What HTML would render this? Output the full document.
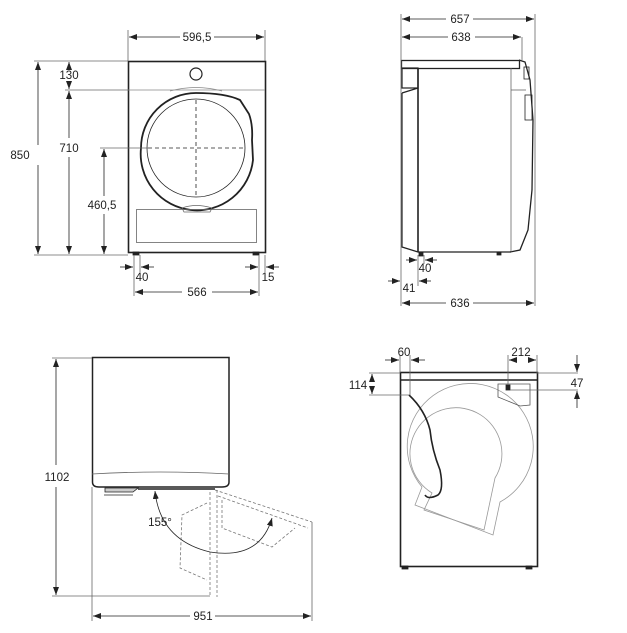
<!DOCTYPE html>
<html><head><meta charset="utf-8"><style>
html,body{margin:0;padding:0;background:#fff;}
svg{display:block;}
text{font-family:"Liberation Sans",sans-serif;font-size:11.5px;fill:#222;}
</style></head><body>
<svg width="627" height="633" viewBox="0 0 627 633" xmlns="http://www.w3.org/2000/svg">
<defs>
<marker id="a" markerWidth="8" markerHeight="6" refX="8" refY="3" orient="auto-start-reverse" markerUnits="userSpaceOnUse"><path d="M0,0 L8,3 L0,6 z" fill="#222"/></marker>
</defs>
<g stroke="#222" fill="none" stroke-width="0.8">
<!-- FRONT VIEW -->
<rect x="128.5" y="61.5" width="137" height="191" stroke-width="1.6"/>
<line x1="128" y1="90" x2="265" y2="90" stroke="#888"/>
<circle cx="196" cy="74" r="6" stroke-width="1.2"/>
<path d="M170,91 Q196,84 222,91" stroke="#888"/>
<path d="M141,148 A55,55 0 0 1 196,93 Q225,93 240,100 L249,114 Q253,125 252,140 L253,160 A56,56 0 0 1 141,148 Z" stroke-width="1.8"/>
<circle cx="196" cy="148" r="49"/>
<line x1="148" y1="148" x2="244" y2="148" stroke-dasharray="4,3"/>
<line x1="196" y1="100" x2="196" y2="196" stroke-dasharray="4,3"/>
<rect x="136.5" y="209.5" width="120" height="33" stroke="#666"/>
<path d="M182,208 Q196,203 212,208 L210,212 L184,212 Z" stroke="#666"/>
<rect x="133" y="252" width="6" height="3" fill="#222"/>
<rect x="253" y="252" width="6" height="3" fill="#222"/>
<!-- front dims -->
<line x1="128" y1="30" x2="128" y2="61" stroke="#666"/>
<line x1="265" y1="30" x2="265" y2="61" stroke="#666"/>
<line x1="129" y1="37" x2="180" y2="37" marker-start="url(#a)"/>
<line x1="214" y1="37" x2="264" y2="37" marker-end="url(#a)"/>
<line x1="34" y1="61" x2="128" y2="61" stroke="#666"/>
<line x1="34" y1="255" x2="128" y2="255" stroke="#666"/>
<line x1="65" y1="90" x2="128" y2="90" stroke="#666"/>
<line x1="100" y1="148" x2="148" y2="148" stroke="#666"/>
<line x1="38" y1="62" x2="38" y2="145" marker-start="url(#a)"/>
<line x1="38" y1="165" x2="38" y2="254" marker-end="url(#a)"/>
<line x1="69" y1="62" x2="69" y2="67" marker-start="url(#a)"/>
<line x1="69" y1="82" x2="69" y2="89" marker-end="url(#a)"/>
<line x1="69" y1="91" x2="69" y2="138" marker-start="url(#a)"/>
<line x1="69" y1="157" x2="69" y2="254" marker-end="url(#a)"/>
<line x1="104" y1="149" x2="104" y2="196" marker-start="url(#a)"/>
<line x1="104" y1="214" x2="104" y2="254" marker-end="url(#a)"/>
<line x1="134" y1="255" x2="134" y2="296" stroke="#666"/>
<line x1="140" y1="255" x2="140" y2="272" stroke="#666"/>
<line x1="259" y1="255" x2="259" y2="296" stroke="#666"/>
<line x1="265" y1="255" x2="265" y2="272" stroke="#666"/>
<line x1="120" y1="267" x2="133" y2="267" marker-end="url(#a)"/>
<line x1="154" y1="267" x2="141" y2="267" marker-end="url(#a)"/>
<line x1="245" y1="267" x2="258" y2="267" marker-end="url(#a)"/>
<line x1="279" y1="267" x2="266" y2="267" marker-end="url(#a)"/>
<line x1="135" y1="292" x2="182" y2="292" marker-start="url(#a)"/>
<line x1="212" y1="292" x2="258" y2="292" marker-end="url(#a)"/>

<!-- SIDE VIEW -->
<rect x="401.5" y="60.5" width="118" height="8" stroke-width="1.3"/>
<path d="M519,60 L525,62 L530,80 L533,120 L532,190 L528,230 L520,250 L510,252" stroke-width="1.3"/>
<rect x="524" y="67" width="5" height="12"/>
<rect x="525" y="95" width="7" height="25"/>
<line x1="511" y1="68" x2="511" y2="252" stroke="#666"/>
<line x1="511" y1="90" x2="526" y2="90" stroke="#666"/>
<rect x="402" y="68" width="16" height="20" stroke-width="1.2"/>
<line x1="418" y1="68" x2="418" y2="252" stroke-width="1.6"/>
<path d="M402,93 L418,88 M402,93 L402,247 L418,252 L511,252" stroke-width="1.2"/>
<rect x="419" y="252" width="4" height="4" fill="#222"/>
<rect x="497" y="252" width="4" height="3" fill="#222"/>
<line x1="401" y1="14" x2="401" y2="306" stroke="#666"/>
<line x1="535" y1="14" x2="535" y2="306" stroke="#666"/>
<line x1="522" y1="37" x2="522" y2="60" stroke="#666"/>
<line x1="402" y1="19" x2="446" y2="19" marker-start="url(#a)"/>
<line x1="473" y1="19" x2="534" y2="19" marker-end="url(#a)"/>
<line x1="402" y1="37" x2="448" y2="37" marker-start="url(#a)"/>
<line x1="475" y1="37" x2="521" y2="37" marker-end="url(#a)"/>
<line x1="418" y1="255" x2="418" y2="286" stroke="#666"/>
<line x1="424" y1="255" x2="424" y2="264" stroke="#666"/>
<line x1="406" y1="260" x2="417" y2="260" marker-end="url(#a)"/>
<line x1="437" y1="260" x2="425" y2="260" marker-end="url(#a)"/>
<line x1="388" y1="281" x2="400" y2="281" marker-end="url(#a)"/>
<line x1="431" y1="281" x2="419" y2="281" marker-end="url(#a)"/>
<line x1="402" y1="303" x2="446" y2="303" marker-start="url(#a)"/>
<line x1="473" y1="303" x2="534" y2="303" marker-end="url(#a)"/>

<!-- TOP VIEW -->
<path d="M92.5,357.5 L229,357.5 L229,482 Q229,487 222,487 L99,487 Q92.5,487 92.5,482 Z" stroke-width="1.5"/>
<path d="M92,474 Q160,470 229,474" stroke="#666"/>
<path d="M105,492 L133,492 L138,488 L105,488 Z" fill="#ccc"/>
<line x1="104" y1="495" x2="133" y2="495"/>
<line x1="138" y1="489" x2="215" y2="489" stroke-width="1.5"/>
<line x1="56" y1="359" x2="56" y2="465" marker-start="url(#a)"/>
<line x1="56" y1="487" x2="56" y2="595" marker-end="url(#a)"/>
<line x1="52" y1="358" x2="92" y2="358" stroke="#666"/>
<line x1="52" y1="596" x2="210" y2="596" stroke="#666"/>
<line x1="92" y1="487" x2="92" y2="621" stroke="#666"/>
<line x1="312" y1="522" x2="312" y2="621" stroke="#666"/>
<line x1="93" y1="616" x2="190" y2="616" marker-start="url(#a)"/>
<line x1="215" y1="616" x2="311" y2="616" marker-end="url(#a)"/>
<g stroke="#777" stroke-dasharray="3,2">
<line x1="210" y1="492" x2="210" y2="597"/>
<line x1="217" y1="490" x2="217" y2="597"/>
<line x1="215" y1="490" x2="312" y2="522"/>
<line x1="218" y1="496" x2="308" y2="528"/>
<path d="M207,503 L182,515 L180,568 L207,580"/>
<path d="M222,500 L222,528 L272,547 L295,528"/>
</g>
<path d="M155,491 Q160,540 210,552 Q260,560 272,518" marker-start="url(#a)" marker-end="url(#a)"/>

<!-- REAR VIEW -->
<rect x="400.5" y="372.5" width="137" height="194" stroke-width="1.6"/>
<line x1="400" y1="380" x2="537" y2="380" stroke-width="1.4"/>
<rect x="402" y="566" width="6" height="3" fill="#222"/>
<rect x="526" y="566" width="6" height="3" fill="#222"/>
<g stroke="#999">
<path d="M422,487 A63,63 0 1 1 500,502 L493,535 L415,505 Z"/>
<path d="M432,493 A46,46 0 1 1 495,478 L484,530 L424,510 Z"/>
</g>
<path d="M506,384 L530,384 L530,405 L520,406 L498,397 L498,384 Z" stroke="#555"/>
<rect x="506" y="385" width="4" height="5" fill="#222"/>
<path d="M409,395 Q425,410 430,430 Q432,450 440,470 Q444,490 438,495 Q428,500 425,495" stroke-width="1.6"/>
<line x1="400" y1="355" x2="400" y2="373" stroke="#666"/>
<line x1="410" y1="355" x2="410" y2="395" stroke="#666"/>
<line x1="385" y1="360" x2="399" y2="360" marker-end="url(#a)"/>
<line x1="425" y1="360" x2="411" y2="360" marker-end="url(#a)"/>
<line x1="508" y1="355" x2="508" y2="384" stroke="#666"/>
<line x1="537" y1="355" x2="537" y2="373" stroke="#666"/>
<line x1="512" y1="360" x2="509" y2="360" marker-end="url(#a)"/>
<line x1="530" y1="360" x2="536" y2="360" marker-end="url(#a)"/>
<line x1="369" y1="373" x2="400" y2="373" stroke="#666"/>
<line x1="369" y1="395" x2="409" y2="395" stroke="#666"/>
<line x1="372" y1="380" x2="372" y2="374" marker-end="url(#a)"/>
<line x1="372" y1="388" x2="372" y2="394" marker-end="url(#a)"/>
<line x1="537" y1="373" x2="578" y2="373" stroke="#666"/>
<line x1="510" y1="390" x2="578" y2="390" stroke="#666"/>
<line x1="577" y1="355" x2="577" y2="372" marker-end="url(#a)"/>
<line x1="577" y1="408" x2="577" y2="391" marker-end="url(#a)"/>
</g>
<g>
<text x="197" y="41" text-anchor="middle">596,5</text>
<text x="20" y="159" text-anchor="middle">850</text>
<text x="69" y="79" text-anchor="middle">130</text>
<text x="69" y="152" text-anchor="middle">710</text>
<text x="102" y="209" text-anchor="middle">460,5</text>
<text x="142" y="281" text-anchor="middle">40</text>
<text x="268" y="281" text-anchor="middle">15</text>
<text x="197" y="296" text-anchor="middle">566</text>
<text x="460" y="23" text-anchor="middle">657</text>
<text x="461" y="41" text-anchor="middle">638</text>
<text x="425" y="272" text-anchor="middle">40</text>
<text x="409" y="292" text-anchor="middle">41</text>
<text x="460" y="307" text-anchor="middle">636</text>
<text x="57" y="481" text-anchor="middle">1102</text>
<text x="203" y="620" text-anchor="middle">951</text>
<text x="160" y="526" text-anchor="middle">155°</text>
<text x="404" y="356" text-anchor="middle">60</text>
<text x="521" y="356" text-anchor="middle">212</text>
<text x="358" y="389" text-anchor="middle">114</text>
<text x="577" y="387" text-anchor="middle">47</text>
</g>
</svg>
</body></html>
